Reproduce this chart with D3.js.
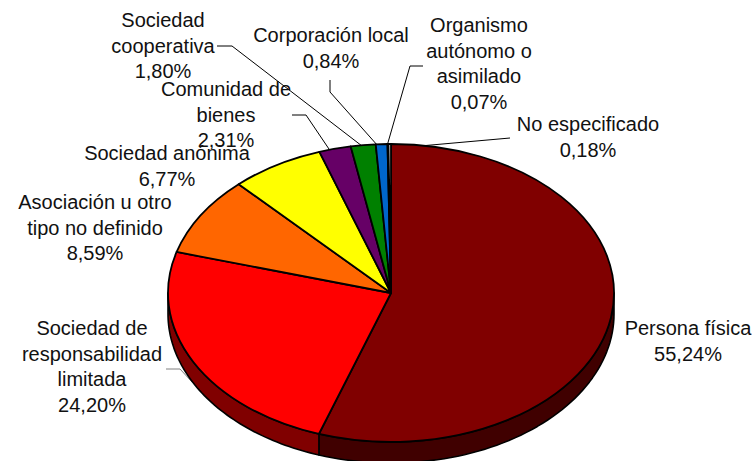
<!DOCTYPE html>
<html>
<head>
<meta charset="utf-8">
<script src="https://cdn.jsdelivr.net/npm/d3@7"></script>
<style>
    html, body { margin: 0; padding: 0; background: #fff; }
    svg { display: block; }
    text { font-family: "Liberation Sans", Arial, sans-serif; font-size: 20px; fill: #111; text-anchor: middle; }
</style>
</head>
<body>
<script>
// datos
let categories = ["Persona física", "Sociedad de responsabilidad limitada", "Asociación u otro tipo no definido",
    "Sociedad anónima", "Comunidad de bienes", "Sociedad cooperativa", "Corporación local",
    "Organismo autónomo o asimilado", "No especificado"]
let values = [55.24, 24.20, 8.59, 6.77, 2.31, 1.80, 0.84, 0.07, 0.18]
let valueLabels = ["55,24%", "24,20%", "8,59%", "6,77%", "2,31%", "1,80%", "0,84%", "0,07%", "0,18%"]
let labelLines = [["Persona física"], ["Sociedad de", "responsabilidad", "limitada"], ["Asociación u otro", "tipo no definido"],
    ["Sociedad anónima"], ["Comunidad de", "bienes"], ["Sociedad", "cooperativa"], ["Corporación local"],
    ["Organismo", "autónomo o", "asimilado"], ["No especificado"]]
let colors = ["#800000", "#ff0000", "#ff6600", "#ffff00", "#660066", "#008000", "#0066cc", "#000080", "#ffffff"]
let sideColors = ["#400000", "#800000", "#803300", "#808000", "#330033", "#004000", "#003366", "#000040", "#808080"]

// colocacion de etiquetas: centro x, primera linea base y
let labelPos = [[688, 335], [92, 335], [95, 209], [167, 160], [226, 96], [163, 27], [331, 42], [479, 32], [588, 131]]
// lineas guia
let leaders = [
    [[166, 369], [180, 369], [192, 382]],
    [[292, 115], [306, 115], [331, 152]],
    [[217, 46], [232, 46], [362, 146]],
    [[330, 80], [330, 92], [378, 146]],
    [[423, 66], [410, 66], [387, 146]],
    [[510, 138], [420, 146]]
]
let leaderColors = ["#808080", "#000", "#000", "#000", "#000", "#000"]

let width = 756, height = 461
let cx = 391, cy = 293, rx = 223, ry = 149, depth = 21
let lineHeight = 25.7

let svg = d3.select("body").append("svg")
    .attr("width", width)
    .attr("height", height)

let pie = d3.pie().sort(null)
let arcs = pie(values)

let arc = d3.arc().innerRadius(0).outerRadius(rx)

// lineas guia debajo del pastel
svg.append("g")
    .selectAll("path")
    .data(leaders)
    .enter()
    .append("path")
    .attr("d", d3.line())
    .attr("fill", "none")
    .attr("stroke", (d, i) => leaderColors[i])
    .attr("stroke-width", 1)

// pared lateral, solo la parte frontal (90 a 270 grados)
function sidePath(d) {
    let a0 = Math.max(d.startAngle, Math.PI / 2)
    let a1 = Math.min(d.endAngle, Math.PI * 1.5)
    if (a1 <= a0) return null
    let steps = d3.range(0, 61).map(i => a0 + (a1 - a0) * i / 60)
    let top = steps.map(a => [cx + rx * Math.sin(a), cy - ry * Math.cos(a)])
    let bottom = steps.slice().reverse().map(a => [cx + rx * Math.sin(a), cy - ry * Math.cos(a) + depth])
    return d3.line()(top.concat(bottom)) + "Z"
}

svg.append("g")
    .selectAll("path")
    .data(arcs.filter(d => sidePath(d)))
    .enter()
    .append("path")
    .attr("d", sidePath)
    .attr("fill", d => sideColors[d.index])
    .attr("stroke", "#000")
    .attr("stroke-width", 1.6)
    .attr("stroke-linejoin", "round")

// cara superior
svg.append("g")
    .attr("transform", `translate(${cx}, ${cy}) scale(1, ${ry / rx})`)
    .selectAll("path")
    .data(arcs)
    .enter()
    .append("path")
    .attr("d", arc)
    .attr("fill", d => colors[d.index])
    .attr("stroke", "#000")
    .attr("stroke-width", 1.8)
    .attr("stroke-linejoin", "round")
    .attr("vector-effect", "non-scaling-stroke")

// etiquetas
let labels = svg.append("g")
    .selectAll("text")
    .data(categories)
    .enter()
    .append("text")
    .attr("x", (d, i) => labelPos[i][0])
    .attr("y", (d, i) => labelPos[i][1])

labels.each(function(d, i) {
    let lines = labelLines[i].concat(valueLabels[i])
    d3.select(this).selectAll("tspan")
        .data(lines)
        .enter()
        .append("tspan")
        .attr("x", labelPos[i][0])
        .attr("y", (t, j) => labelPos[i][1] + j * lineHeight)
        .text(t => t)
})
</script>
</body>
</html>
